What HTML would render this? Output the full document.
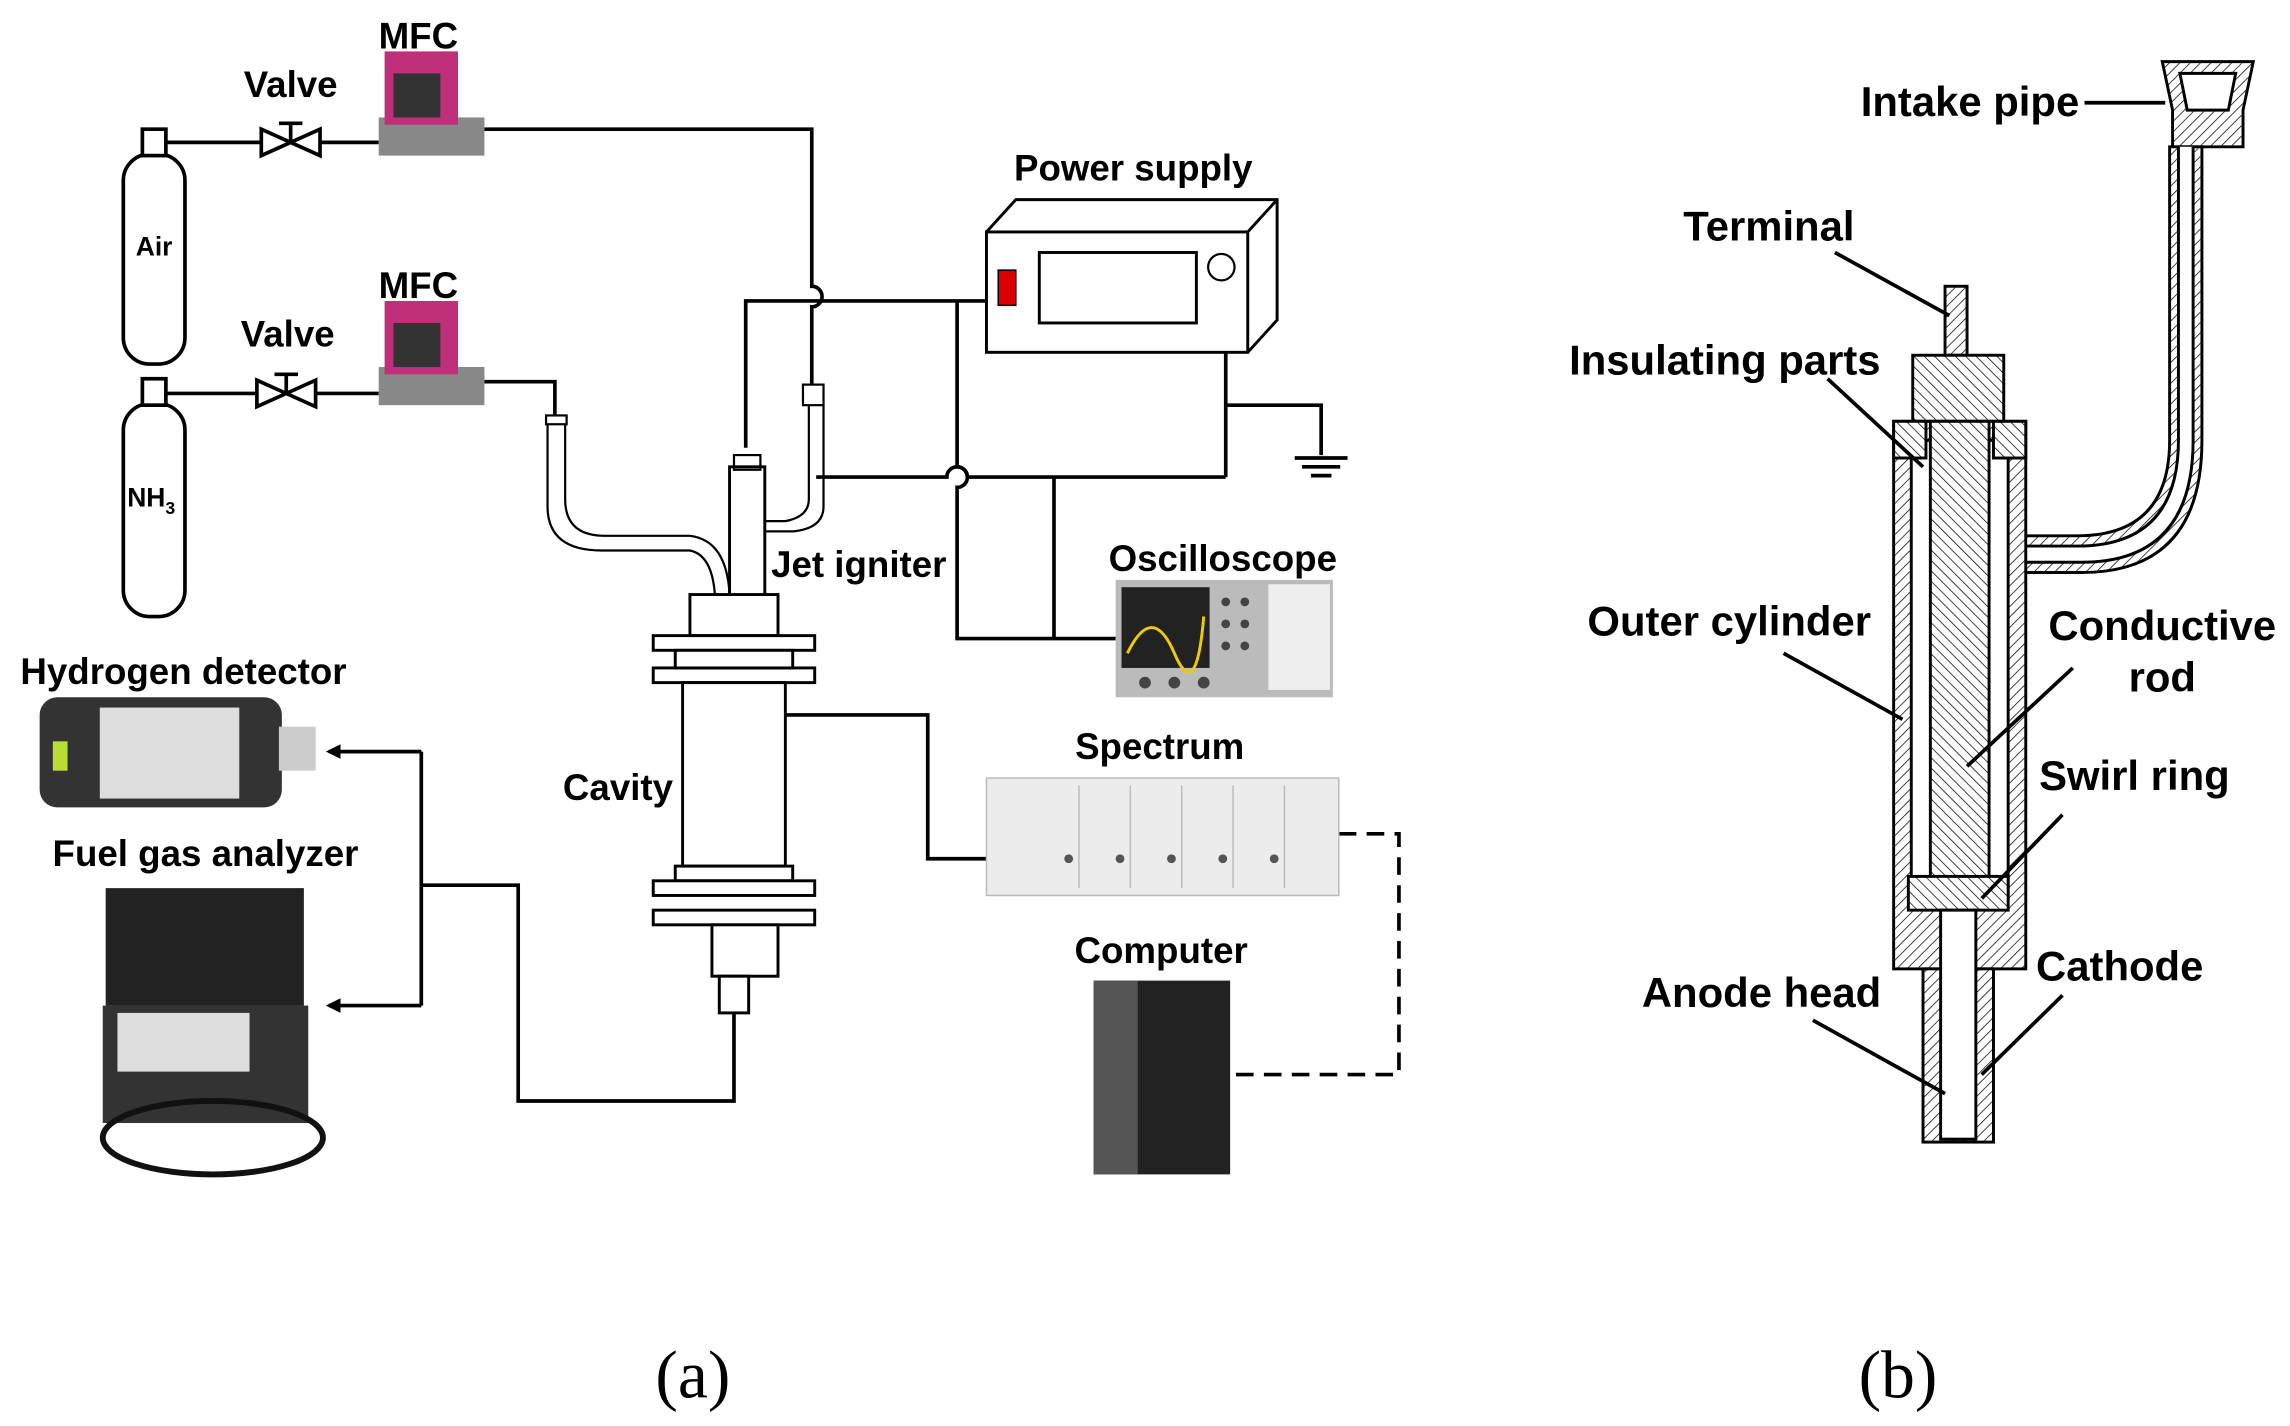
<!DOCTYPE html>
<html><head><meta charset="utf-8"><style>
html,body{margin:0;padding:0;background:#fff;}
svg{display:block;}
text{font-family:"Liberation Sans",Arial,sans-serif;font-weight:bold;fill:#000;}
</style></head><body>
<svg width="2290" height="1426" viewBox="0 0 1560 971.4" preserveAspectRatio="none" xmlns="http://www.w3.org/2000/svg">
<defs>
<pattern id="h" width="5" height="5" patternUnits="userSpaceOnUse" patternTransform="rotate(45)">
<rect width="5" height="5" fill="#fff"/><line x1="0" y1="0" x2="0" y2="5" stroke="#000" stroke-width="1"/></pattern>
<pattern id="h2" width="5" height="5" patternUnits="userSpaceOnUse" patternTransform="rotate(-45)">
<rect width="5" height="5" fill="#fff"/><line x1="0" y1="0" x2="0" y2="5" stroke="#000" stroke-width="1"/></pattern>
<marker id="ar" markerWidth="10" markerHeight="10" refX="8" refY="5" orient="auto" markerUnits="userSpaceOnUse"><path d="M0,0 L10,5 L0,10 z" fill="#000"/></marker>
</defs>
<g fill="none" stroke="#000" stroke-width="2.5">
<rect x="84" y="105" width="42" height="143" rx="18" fill="#fff"/>
<rect x="97" y="88" width="16" height="18" fill="#fff"/>
<rect x="84" y="275" width="42" height="145" rx="18" fill="#fff"/>
<rect x="97" y="258" width="16" height="18" fill="#fff"/>
<path d="M113,97 H258"/><path d="M113,268 H258"/>
<path d="M178,88 L218,106 L218,88 L178,106 Z" fill="#fff"/><path d="M198,97 V84 M190,84 H206"/>
<path d="M175,259 L215,277 L215,259 L175,277 Z" fill="#fff"/><path d="M195,268 V255 M187,255 H203"/>
<path d="M330,88 H553 V195 A7,7 0 0 1 553,209 V262"/>
<rect x="547" y="262" width="14" height="14" stroke-width="1.5" fill="#fff"/>
<path d="M551,276 V340 Q551,352 535,355 H520 M561,276 V345 Q561,360 540,362 H520" stroke-width="1.5"/>
<path d="M330,260 H378 V285"/>
<path d="M373,285 V345 Q373,375 410,375 H470 Q485,378 487,405 M385,285 V340 Q385,365 412,365 H470 Q495,368 497,405" stroke-width="1.5"/>
<rect x="372" y="283" width="14" height="6" stroke-width="1.5" fill="#fff"/>
<path d="M672,158 L692,136 H870 V218 L850,240" stroke-width="2"/>
<path d="M850,158 L870,136" stroke-width="2"/>
<rect x="672" y="158" width="178" height="82" stroke-width="2" fill="#fff"/>
<rect x="708" y="172" width="107" height="48" stroke-width="2"/>
<circle cx="832" cy="182" r="9" stroke-width="1.5"/>
<rect x="680" y="184" width="12" height="24" fill="#d00" stroke-width="1"/>
<path d="M672,205 H508 V305"/>
<path d="M835,240 V325 M835,276 H900 V310 M882,312 H918 M887,318 H913 M893,324 H907"/>
<path d="M556,325 H645 A7,7 0 0 1 659,325 H835"/>
<path d="M652,205 V318 A7,7 0 0 1 652,332 V435 H760 M718,325 V435"/>
<rect x="497" y="318" width="24" height="88" stroke-width="2" fill="#fff"/>
<rect x="500" y="310" width="18" height="10" stroke-width="1.5"/>
<rect x="470" y="405" width="60" height="28" stroke-width="2" fill="#fff"/>
<rect x="445" y="433" width="110" height="10" stroke-width="2" fill="#fff"/>
<rect x="445" y="455" width="110" height="10" stroke-width="2" fill="#fff"/>
<rect x="460" y="443" width="80" height="12" stroke-width="2" fill="#fff"/>
<rect x="465" y="465" width="70" height="125" stroke-width="2" fill="#fff"/>
<rect x="460" y="590" width="80" height="10" stroke-width="2" fill="#fff"/>
<rect x="445" y="600" width="110" height="10" stroke-width="2" fill="#fff"/>
<rect x="445" y="620" width="110" height="10" stroke-width="2" fill="#fff"/>
<rect x="485" y="630" width="45" height="35" stroke-width="2" fill="#fff"/>
<rect x="490" y="665" width="20" height="25" stroke-width="2" fill="#fff"/>
<path d="M535,487 H632 V585 H672"/>
<path d="M912,568 H953 V732 H840" stroke-dasharray="12,7"/>
<path d="M500,690 V750 H353 V603 H287 M287,512 V685 M287,512 H224" marker-end="url(#ar)"/>
<path d="M287,685 H224" marker-end="url(#ar)"/>
</g>
<g>
<rect x="258" y="80" width="72" height="26" fill="#888"/><rect x="262" y="35" width="50" height="50" fill="#c0307a"/><rect x="268" y="50" width="32" height="30" fill="#333"/>
<rect x="258" y="250" width="72" height="26" fill="#888"/><rect x="262" y="205" width="50" height="50" fill="#c0307a"/><rect x="268" y="220" width="32" height="30" fill="#333"/>
</g>
<rect x="760" y="395" width="148" height="80" fill="#bbb"/><rect x="764" y="400" width="60" height="55" fill="#222"/>
<path d="M768,445 Q785,410 800,445 T820,420" stroke="#ec0" stroke-width="2" fill="none"/>
<rect x="864" y="398" width="42" height="72" fill="#eee"/>
<g fill="#444"><circle cx="835" cy="410" r="3"/><circle cx="848" cy="410" r="3"/><circle cx="835" cy="425" r="3"/><circle cx="848" cy="425" r="3"/><circle cx="835" cy="440" r="3"/><circle cx="848" cy="440" r="3"/><circle cx="780" cy="465" r="4"/><circle cx="800" cy="465" r="4"/><circle cx="820" cy="465" r="4"/></g>
<rect x="672" y="530" width="240" height="80" fill="#ececec" stroke="#bbb"/>
<g stroke="#bbb"><path d="M735,535 V605 M770,535 V605 M805,535 V605 M840,535 V605 M875,535 V605"/></g>
<g fill="#555"><circle cx="728" cy="585" r="3"/><circle cx="763" cy="585" r="3"/><circle cx="798" cy="585" r="3"/><circle cx="833" cy="585" r="3"/><circle cx="868" cy="585" r="3"/></g>
<rect x="745" y="668" width="93" height="132" fill="#222"/><rect x="745" y="668" width="30" height="132" fill="#555"/>
<rect x="27" y="475" width="165" height="75" rx="12" fill="#333"/><rect x="68" y="482" width="95" height="62" fill="#ddd"/><rect x="190" y="495" width="25" height="30" fill="#ccc"/>
<rect x="36" y="505" width="10" height="20" fill="#bd3"/>
<rect x="72" y="605" width="135" height="80" fill="#222"/><rect x="70" y="685" width="140" height="80" fill="#333"/><rect x="80" y="690" width="90" height="40" fill="#ddd"/>
<ellipse cx="145" cy="775" rx="75" ry="25" fill="none" stroke="#111" stroke-width="4"/>
<g font-size="25">
<text x="285" y="33" text-anchor="middle">MFC</text>
<text x="198" y="66" text-anchor="middle">Valve</text>
<text x="285" y="203" text-anchor="middle">MFC</text>
<text x="196" y="236" text-anchor="middle">Valve</text>
<text x="772" y="123" text-anchor="middle">Power supply</text>
<text x="585" y="393" text-anchor="middle">Jet igniter</text>
<text x="833" y="389" text-anchor="middle">Oscilloscope</text>
<text x="790" y="517" text-anchor="middle">Spectrum</text>
<text x="791" y="656" text-anchor="middle">Computer</text>
<text x="421" y="545" text-anchor="middle">Cavity</text>
<text x="125" y="466" text-anchor="middle">Hydrogen detector</text>
<text x="140" y="590" text-anchor="middle">Fuel gas analyzer</text>
</g>
<text x="105" y="174" text-anchor="middle" font-size="18">Air</text>
<text x="103" y="345" text-anchor="middle" font-size="18">NH<tspan font-size="12" dy="5">3</tspan></text>
<text x="472" y="952" text-anchor="middle" font-size="46" style="font-family:'Liberation Serif',serif;font-weight:normal">(a)</text>
<text x="1293" y="952" text-anchor="middle" font-size="46" style="font-family:'Liberation Serif',serif;font-weight:normal">(b)</text>
<g stroke="#000" stroke-width="2">
<path d="M1473,42 H1535 L1528,75 V100 H1480 V75 Z" fill="url(#h)"/>
<path d="M1485,50 H1523 L1518,75 H1490 Z" fill="#fff"/>
<path d="M1478,100 V300 Q1478,365 1415,365 H1365 V390 H1418 Q1500,390 1500,300 V100 Z" fill="url(#h)"/>
<path d="M1484,100 V300 Q1484,372 1415,372 H1365 V383 H1418 Q1494,383 1494,300 V100" fill="#fff"/>
<rect x="1325" y="195" width="15" height="47" fill="url(#h)"/>
<rect x="1303" y="242" width="62" height="45" fill="url(#h2)"/>
<rect x="1290" y="287" width="90" height="373" fill="url(#h)"/>
<rect x="1302" y="300" width="66" height="312" fill="#fff"/>
<rect x="1315" y="287" width="40" height="320" fill="url(#h2)"/>
<rect x="1290" y="287" width="22" height="25" fill="url(#h2)"/>
<rect x="1358" y="287" width="22" height="25" fill="url(#h2)"/>
<rect x="1300" y="597" width="68" height="23" fill="url(#h2)"/>
<rect x="1310" y="660" width="48" height="118" fill="url(#h)"/>
<rect x="1322" y="620" width="24" height="156" fill="#fff"/>
</g>
<g stroke="#000" stroke-width="2.5" fill="none">
<path d="M1420,70 H1475"/><path d="M1250,172 L1328,215"/><path d="M1245,258 L1310,318"/>
<path d="M1215,445 L1296,490"/><path d="M1412,455 L1340,522"/><path d="M1405,555 L1350,612"/>
<path d="M1235,695 L1325,745"/><path d="M1405,678 L1350,732"/>
</g>
<g font-size="28.5">
<text x="1342" y="79" text-anchor="middle">Intake pipe</text>
<text x="1205" y="164" text-anchor="middle">Terminal</text>
<text x="1175" y="255" text-anchor="middle">Insulating parts</text>
<text x="1178" y="433" text-anchor="middle">Outer cylinder</text>
<text x="1473" y="436" text-anchor="middle">Conductive</text>
<text x="1473" y="471" text-anchor="middle">rod</text>
<text x="1454" y="538" text-anchor="middle">Swirl ring</text>
<text x="1444" y="668" text-anchor="middle">Cathode</text>
<text x="1200" y="686" text-anchor="middle">Anode head</text>
</g>
</svg>
</body></html>
